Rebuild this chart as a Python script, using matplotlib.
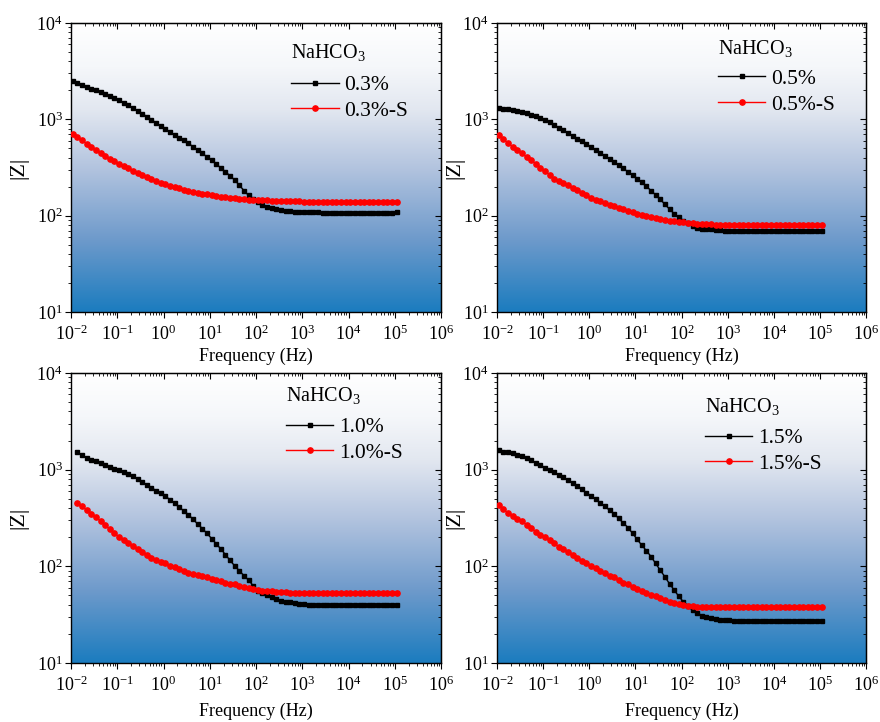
import numpy as np
import matplotlib
matplotlib.use('Agg')
import matplotlib.pyplot as plt
from matplotlib.colors import LinearSegmentedColormap
from matplotlib.ticker import LogLocator, NullFormatter

plt.rcParams['font.family'] = ['Liberation Serif', 'DejaVu Serif']
plt.rcParams['mathtext.fontset'] = 'custom'
plt.rcParams['mathtext.rm'] = 'Liberation Serif'
plt.rcParams['mathtext.it'] = 'Liberation Serif:italic'
plt.rcParams['mathtext.bf'] = 'Liberation Serif:bold'
plt.rcParams['axes.unicode_minus'] = False

# ---------------- data ----------------
# EIS frequency sweep, 10 points per decade (Hz)
freq = np.logspace(-1.96, 5.04, 71)
freq_c = freq[1:]  # panel 3 sweep starts one step later

labels_a = ['0.3%', '0.3%-S']
z_03 = [2512, 2399, 2291, 2188, 2089, 1995, 1905, 1820, 1738, 1660,
        1585, 1489, 1400, 1312, 1230, 1148, 1067, 991, 920, 855,
        794, 741, 692, 646, 603, 562, 520, 481, 443, 408,
        377, 344, 313, 285, 259, 234, 207, 182, 162, 148,
        138, 129, 123, 119, 116, 114, 113, 111, 110, 110,
        109, 108, 108, 108, 107, 107, 107, 107, 107, 107,
        107, 107, 107, 107, 107, 107, 107, 107, 107, 107, 108]
z_03s = [711, 653, 604, 560, 518, 481, 448, 417, 389, 365,
         344, 325, 309, 292, 277, 263, 250, 238, 227, 219,
         213, 205, 198, 192, 185, 180, 175, 171, 168, 166,
         164, 161, 158, 156, 153, 151, 150, 148, 147, 146,
         145, 144, 144, 143, 142, 142, 141, 141, 141, 141,
         140, 140, 140, 140, 140, 140, 140, 140, 140, 140,
         140, 140, 140, 140, 140, 140, 140, 140, 140, 140, 140]

labels_b = ['0.5%', '0.5%-S']
z_05 = [1309, 1288, 1265, 1242, 1216, 1191, 1153, 1112, 1072, 1033,
        993, 933, 875, 822, 771, 723, 676, 632, 592, 553,
        518, 482, 449, 418, 389, 362, 334, 309, 285, 264,
        243, 221, 201, 182, 164, 148, 131, 117, 105, 96,
        89, 83, 78, 75, 73, 72, 72, 71, 71, 70,
        70, 69.5, 69.5, 69, 69, 69, 69, 69, 69, 69,
        69, 69, 69, 69, 69, 69, 69, 69, 69, 69, 69]
z_05s = [682, 621, 565, 519, 478, 442, 407, 378, 347, 316,
         290, 265, 243, 230, 219, 207, 195, 184, 173, 163,
         153, 147, 141, 136, 130, 125, 121, 116, 112, 108,
         105, 102, 99, 96, 94, 92, 90, 89, 87, 86,
         85, 84, 83, 82, 82, 81, 81, 80.5, 80, 80,
         80, 80, 80, 80, 80, 80, 80, 80, 80, 80,
         80, 80, 80, 80, 80, 80, 80, 80, 80, 80, 80]

labels_c = ['1.0%', '1.0%-S']
z_10 = [1514, 1413, 1327, 1268, 1230, 1178, 1127, 1076, 1028, 982,
        940, 897, 857, 802, 748, 697, 650, 608, 569, 531,
        490, 448, 409, 374, 342, 306, 274, 246, 219, 194,
        171, 151, 132, 115, 101, 90, 80, 72, 63, 56,
        53, 50, 48, 46, 44, 43, 43, 42, 41, 41,
        40, 40, 40, 40, 40, 40, 40, 40, 40, 40,
        40, 40, 40, 40, 40, 40, 40, 40, 40, 40]
z_10s = [456, 417, 382, 351, 322, 293, 266, 242, 220, 202,
         188, 175, 162, 151, 141, 132, 123, 116, 111, 107,
         102, 98, 94, 90, 86, 83, 81, 79, 77, 74,
         72, 70, 68, 66, 65, 63, 61, 60, 58, 57,
         56, 56, 55, 54, 54, 54, 53, 53, 53, 53,
         53, 53, 53, 53, 53, 53, 53, 53, 53, 53,
         53, 53, 53, 53, 53, 53, 53, 53, 53, 53]

labels_d = ['1.5%', '1.5%-S']
z_15 = [1611, 1531, 1514, 1479, 1426, 1374, 1309, 1247, 1186, 1117,
        1050, 989, 938, 887, 834, 778, 724, 673, 624, 578,
        535, 492, 453, 416, 381, 348, 313, 280, 252, 219,
        190, 165, 145, 126, 107, 91, 78, 66, 57, 49,
        43, 39, 35, 33, 31, 30, 29, 28.4, 28, 28,
        27.6, 27.3, 27, 27, 27, 27, 27, 27, 27, 27,
        27, 27, 27, 27, 27, 27, 27, 27, 27, 27, 27]
z_15s = [428, 389, 354, 331, 311, 292, 269, 248, 229, 213,
         200, 186, 173, 160, 150, 140, 131, 122, 114, 107,
         101, 95, 90, 85, 80, 77, 72, 68, 65, 61,
         58, 55, 53, 51, 49, 47, 45, 43, 42, 41,
         40, 39, 38.5, 38, 38, 37.7, 37.7, 37.7, 37.7, 37.7,
         37.7, 37.7, 37.7, 37.7, 37.7, 37.7, 37.7, 37.7, 37.7, 37.7,
         37.7, 37.7, 37.7, 37.7, 37.7, 37.7, 37.7, 37.7, 37.7, 37.7, 37.7]

legend_title = 'NaHCO$_3$'
x_label = 'Frequency (Hz)'
y_label = '|Z|'

# ---------------- layout ----------------
W, H = 880, 722
fig = plt.figure(figsize=(W / 100, H / 100), dpi=100)

panels = [
    dict(box=(71, 23, 441, 312), f=freq, z=(z_03, z_03s), lab=labels_a,
         lx=0.595, ty=0.879, ly=0.820, ylc=-0.114, xlc=-0.122),
    dict(box=(497, 23, 866, 312), f=freq, z=(z_05, z_05s), lab=labels_b,
         lx=0.599, ty=0.894, ly=0.841, ylc=-0.089, xlc=-0.122),
    dict(box=(71, 373, 441, 663), f=freq_c, z=(z_10, z_10s), lab=labels_c,
         lx=0.581, ty=0.905, ly=0.848, ylc=-0.114, xlc=-0.138),
    dict(box=(497, 373, 866, 663), f=freq, z=(z_15, z_15s), lab=labels_d,
         lx=0.564, ty=0.864, ly=0.810, ylc=-0.089, xlc=-0.138),
]

cmap = LinearSegmentedColormap.from_list(
    'bg', [(0.0, '#1b7cbf'), (0.25, '#6e9acb'), (0.5, '#b3c4df'),
           (0.7, '#e2e7f0'), (0.85, '#f5f7fa'), (1.0, '#ffffff')])
grad = np.linspace(0, 1, 256).reshape(-1, 1)

for p in panels:
    l, t, r, b = p['box']
    ax = fig.add_axes([l / W, 1 - b / H, (r - l) / W, (b - t) / H])
    ax.set_xscale('log')
    ax.set_yscale('log')
    ax.imshow(grad, cmap=cmap, extent=[0, 1, 0, 1], transform=ax.transAxes,
              aspect='auto', origin='lower', zorder=0, interpolation='bilinear')
    f = p['f']
    ax.plot(f, p['z'][0], color='black', marker='s', ms=3.0, lw=1.0,
            zorder=3, label=p['lab'][0])
    ax.plot(f, p['z'][1], color='red', marker='o', ms=3.8, lw=1.0,
            zorder=3, label=p['lab'][1])
    ax.set_xlim(1e-2, 1e6)
    ax.set_ylim(1e1, 1e4)

    for axis in (ax.xaxis, ax.yaxis):
        axis.set_major_locator(LogLocator(base=10, numticks=20))
        axis.set_minor_locator(LogLocator(base=10, subs=np.arange(2, 10), numticks=20))
        axis.set_minor_formatter(NullFormatter())
    ax.tick_params(which='major', direction='out', length=4, width=0.8,
                   labelsize=13, colors='black')
    ax.tick_params(which='minor', direction='out', length=2.2, width=0.6)
    ax.tick_params(axis='x', which='major', pad=5)
    ax.tick_params(axis='y', which='major', pad=2)
    for s in ax.spines.values():
        s.set_linewidth(1.0)

    sx = ax.secondary_xaxis('top')
    sx.tick_params(which='both', direction='in', labeltop=False)
    sx.tick_params(which='major', length=4, width=0.8)
    sx.tick_params(which='minor', length=2.2, width=0.6)
    sy = ax.secondary_yaxis('right')
    sy.tick_params(which='both', direction='in', labelright=False)
    sy.tick_params(which='major', length=4, width=0.8)
    sy.tick_params(which='minor', length=2.2, width=0.6)

    ax.set_xlabel(x_label, fontsize=13)
    ax.set_ylabel(y_label, fontsize=16)
    ax.xaxis.set_label_coords(0.5, p['xlc'])
    ax.yaxis.set_label_coords(p['ylc'], 0.5)

    ax.text(p['lx'], p['ty'], legend_title, transform=ax.transAxes,
            fontsize=14.5, ha='left', va='baseline', zorder=5)
    leg = ax.legend(loc='upper left', bbox_to_anchor=(p['lx'], p['ly']),
                    frameon=False, fontsize=15.5, handlelength=2.2,
                    handletextpad=0.25, labelspacing=0.26, borderpad=0,
                    borderaxespad=0, numpoints=1)
    leg.set_zorder(5)

fig.savefig('out.png', dpi=100)
